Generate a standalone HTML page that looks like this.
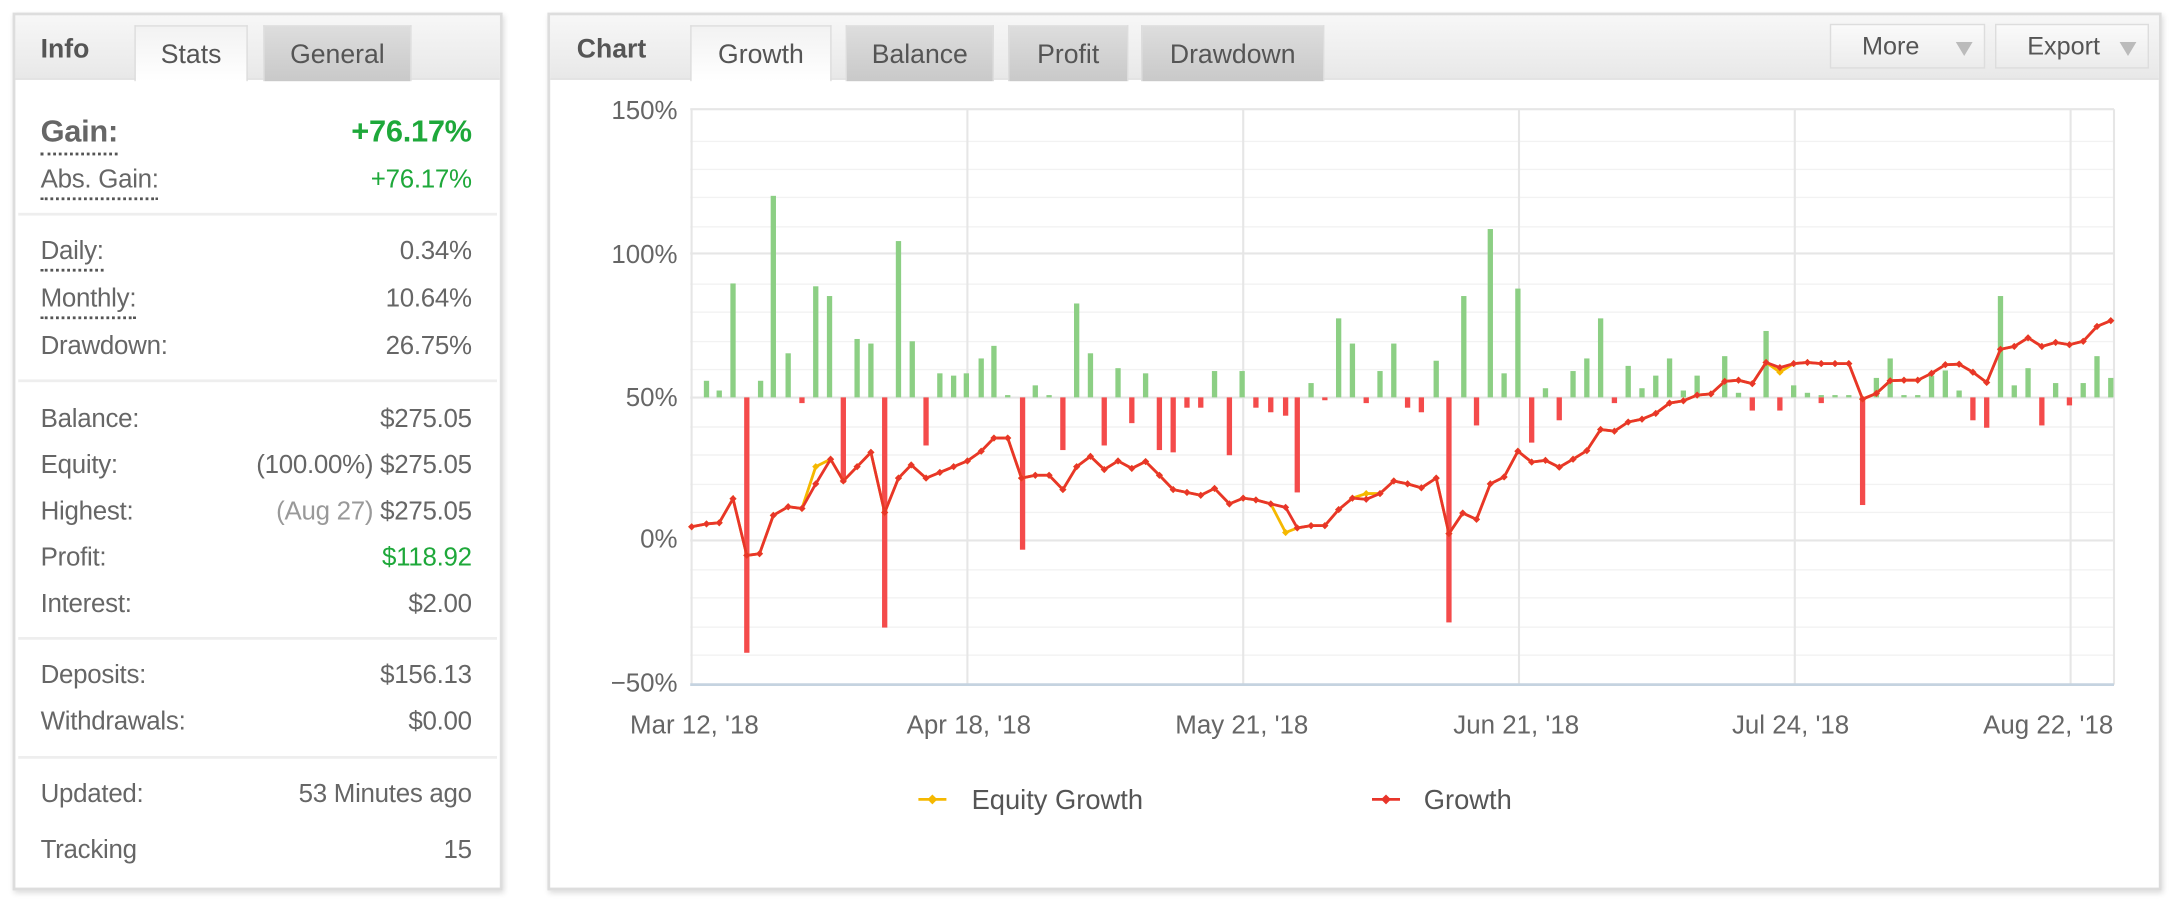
<!DOCTYPE html>
<html><head><meta charset="utf-8"><style>
*{margin:0;padding:0;box-sizing:border-box}
html,body{width:2184px;height:899px;overflow:hidden;background:#fff}
#w{position:absolute;left:0;top:0;width:1560px;height:642px;transform:scale(1.4);transform-origin:0 0;font-family:"Liberation Sans",sans-serif;color:#666}
.panel{position:absolute;background:#fff;border:2px solid #ddd;box-shadow:1px 2px 4px rgba(0,0,0,.15)}
.hdr{position:absolute;left:0;right:0;top:0;height:46px;background:linear-gradient(#f7f7f7,#e8e8e8);border-bottom:1px solid #ddd}
.tab{position:absolute;top:7px;height:40px;font-size:19px;text-align:center;line-height:42px;color:#555;background:linear-gradient(#ddd,#c9c9c9);border:1px solid #ddd;border-bottom:none}
.tab.act{background:linear-gradient(#f2f2f2,#fff);color:#555}
.ttl{position:absolute;top:14px;font-weight:bold;font-size:19px;color:#555}
.row{position:absolute;left:18px;right:20px;font-size:18.5px;height:22px;letter-spacing:-0.2px}
.row .l{position:absolute;left:0}
.row .r{position:absolute;right:0}
.dot{border-bottom:2px dotted #555;padding-bottom:2px}
.sep{position:absolute;left:2px;right:2px;height:2px;background:#eee}
.g{color:#1ea83a}
.btn{position:absolute;top:6px;height:32px;border:1px solid #ddd;background:linear-gradient(#fafafa,#ececec);font-size:18px;line-height:30px;padding-left:22px;color:#555}
.btn i{position:absolute;right:8px;top:12px;border-left:6px solid transparent;border-right:6px solid transparent;border-top:10px solid #bbb}
.yl{position:absolute;font-size:18.5px;color:#666;text-align:right;width:62px}
.xl{position:absolute;font-size:18.5px;color:#666;width:130px;text-align:center}
</style></head><body><div id="w">
<div class="panel" style="left:9px;top:9px;width:350px;height:627px">
 <div class="hdr"></div>
 <div class="ttl" style="left:18px">Info</div>
 <div class="tab act" style="left:85px;width:81px">Stats</div>
 <div class="tab" style="left:177px;width:106px">General</div>
 <div class="row" style="top:70px;font-size:22px;font-weight:bold;height:26px"><span class="l dot" style="color:#666">Gain:</span><span class="r g">+76.17%</span></div>
 <div class="row" style="top:106px"><span class="l dot">Abs. Gain:</span><span class="r g">+76.17%</span></div>
 <div class="sep" style="top:141px"></div>
 <div class="row" style="top:157px"><span class="l dot">Daily:</span><span class="r">0.34%</span></div>
 <div class="row" style="top:191px"><span class="l dot">Monthly:</span><span class="r">10.64%</span></div>
 <div class="row" style="top:225px"><span class="l">Drawdown:</span><span class="r">26.75%</span></div>
 <div class="sep" style="top:260px"></div>
 <div class="row" style="top:277px"><span class="l">Balance:</span><span class="r">$275.05</span></div>
 <div class="row" style="top:310px"><span class="l">Equity:</span><span class="r">(100.00%) $275.05</span></div>
 <div class="row" style="top:343px"><span class="l">Highest:</span><span class="r"><span style="color:#999">(Aug 27)</span> $275.05</span></div>
 <div class="row" style="top:376px"><span class="l">Profit:</span><span class="r g">$118.92</span></div>
 <div class="row" style="top:409px"><span class="l">Interest:</span><span class="r">$2.00</span></div>
 <div class="sep" style="top:444px"></div>
 <div class="row" style="top:460px"><span class="l">Deposits:</span><span class="r">$156.13</span></div>
 <div class="row" style="top:493px"><span class="l">Withdrawals:</span><span class="r">$0.00</span></div>
 <div class="sep" style="top:529px"></div>
 <div class="row" style="top:545px"><span class="l">Updated:</span><span class="r">53 Minutes ago</span></div>
 <div class="row" style="top:585px"><span class="l">Tracking</span><span class="r">15</span></div>
</div>
<div class="panel" style="left:391px;top:9px;width:1153px;height:627px">
 <div class="hdr"></div>
 <div class="ttl" style="left:19px">Chart</div>
 <div class="tab act" style="left:100px;width:101px">Growth</div>
 <div class="tab" style="left:211px;width:106px">Balance</div>
 <div class="tab" style="left:327px;width:86px">Profit</div>
 <div class="tab" style="left:422px;width:131px">Drawdown</div>
 <div class="btn" style="left:914px;width:111px">More<i></i></div>
 <div class="btn" style="left:1032px;width:110px">Export<i></i></div>
</div>
<div class="yl" style="left:422px;top:68px">150%</div>
<div class="yl" style="left:422px;top:171px">100%</div>
<div class="yl" style="left:422px;top:273px">50%</div>
<div class="yl" style="left:422px;top:374px">0%</div>
<div class="yl" style="left:422px;top:477px">−50%</div>
<div class="xl" style="left:431px;top:507px">Mar 12, '18</div>
<div class="xl" style="left:627px;top:507px">Apr 18, '18</div>
<div class="xl" style="left:822px;top:507px">May 21, '18</div>
<div class="xl" style="left:1018px;top:507px">Jun 21, '18</div>
<div class="xl" style="left:1214px;top:507px">Jul 24, '18</div>
<div class="xl" style="left:1398px;top:507px">Aug 22, '18</div>
<svg style="position:absolute;left:0;top:0" width="1560" height="642">
<g stroke="#f2f2f2" stroke-width="1">
<line x1="493" x2="1510" y1="121" y2="121"/><line x1="493" x2="1510" y1="141" y2="141"/><line x1="493" x2="1510" y1="162" y2="162"/><line x1="493" x2="1510" y1="101" y2="101"/>
<line x1="493" x2="1510" y1="203" y2="203"/><line x1="493" x2="1510" y1="223" y2="223"/><line x1="493" x2="1510" y1="244" y2="244"/><line x1="493" x2="1510" y1="264" y2="264"/>
<line x1="493" x2="1510" y1="305" y2="305"/><line x1="493" x2="1510" y1="325" y2="325"/><line x1="493" x2="1510" y1="346" y2="346"/><line x1="493" x2="1510" y1="366" y2="366"/>
<line x1="493" x2="1510" y1="407" y2="407"/><line x1="493" x2="1510" y1="427" y2="427"/><line x1="493" x2="1510" y1="448" y2="448"/><line x1="493" x2="1510" y1="468" y2="468"/>
</g>
<g stroke="#e6e6e6" stroke-width="1.5">
<line x1="493" x2="1510" y1="78" y2="78"/><line x1="493" x2="1510" y1="181" y2="181"/><line x1="493" x2="1510" y1="284" y2="284"/><line x1="493" x2="1510" y1="386" y2="386"/>
<line x1="494" x2="494" y1="78" y2="489"/><line x1="691" x2="691" y1="78" y2="489"/><line x1="888" x2="888" y1="78" y2="489"/><line x1="1085" x2="1085" y1="78" y2="489"/><line x1="1282" x2="1282" y1="78" y2="489"/><line x1="1479" x2="1479" y1="78" y2="489"/><line x1="1510" x2="1510" y1="78" y2="489"/>
</g>
<line x1="493" x2="1510" y1="489" y2="489" stroke="#c5d3e0" stroke-width="2"/>
<g transform="translate(385.7,0) scale(0.7576,0.409)">
<g fill="#8ccf84" id="gb"></g><g fill="#f44b4b" id="rb"></g>
<polyline id="eq" fill="none" stroke="#f5b800" stroke-width="2" vector-effect="non-scaling-stroke"/>
<polyline id="gr" fill="none" stroke="#e8352a" stroke-width="2" vector-effect="non-scaling-stroke"/>
</g>
<g id="mk"></g>
<line x1="656" x2="676" y1="571" y2="571" stroke="#f5b800" stroke-width="2"/><rect x="663.5" y="568.5" width="5" height="5" fill="#f5b800" transform="rotate(45 666 571)"/>
<text x="694" y="578" font-size="19.5" fill="#555" font-family="Liberation Sans,sans-serif">Equity Growth</text>
<line x1="980" x2="1000" y1="571" y2="571" stroke="#e8352a" stroke-width="2"/><rect x="987.5" y="568.5" width="5" height="5" fill="#e8352a" transform="rotate(45 990 571)"/>
<text x="1017" y="578" font-size="19.5" fill="#555" font-family="Liberation Sans,sans-serif">Growth</text>
</svg>
</div>
<script>
var G=[[143,920],[157,915],[169,913],[182,871],[195,970],[207,967],[220,900],[234,885],[247,888],[260,845],[274,802],[286,840],[299,815],[312,790],[325,895],[338,835],[350,812],[364,835],[377,825],[390,815],[403,805],[416,788],[428,765],[441,765],[454,835],[467,830],[480,830],[493,855],[506,815],[519,797],[532,820],[545,805],[558,818],[571,806],[584,830],[597,855],[610,860],[623,865],[636,853],[650,880],[663,870],[675,873],[689,880],[703,886],[714,922],[727,918],[740,918],[753,890],[766,870],[779,872],[792,862],[805,840],[818,845],[831,852],[845,835],[857,932],[870,896],[883,907],[896,845],[909,833],[922,788],[935,807],[948,804],[961,816],[974,802],[987,787],[1000,750],[1013,753],[1026,737],[1039,732],[1052,722],[1065,704],[1078,700],[1091,690],[1104,688],[1117,666],[1130,664],[1143,670],[1156,633],[1169,642],[1182,635],[1195,633],[1208,635],[1221,635],[1234,635],[1247,697],[1260,687],[1273,665],[1286,664],[1299,664],[1312,652],[1325,637],[1338,636],[1351,650],[1364,668],[1377,610],[1390,605],[1403,590],[1416,605],[1429,598],[1442,602],[1455,596],[1468,570],[1481,560]];
var E=G.map(function(p){var q=p.slice();if(q[0]==260)q[1]=815;if(q[0]==703)q[1]=930;if(q[0]==779)q[1]=862;if(q[0]==1169)q[1]=650;return q;});
function pts(a){return a.map(function(p){return p.join(',')}).join(' ')}
document.getElementById('gr').setAttribute('points',pts(G));
document.getElementById('eq').setAttribute('points',pts(E));
var GB=[[157,665],[169,682],[182,495],[208,665],[220,342],[234,617],[260,500],[273,517],[299,592],[312,600],[338,421],[351,596],[377,652],[390,656],[402,652],[416,626],[428,604],[441,690],[467,673],[480,690],[506,530],[519,617],[545,643],[571,652],[636,648],[662,648],[727,669],[753,556],[766,600],[792,648],[805,600],[845,630],[871,517],[896,400],[909,652],[922,504],[948,678],[974,648],[987,626],[1000,556],[1026,639],[1039,678],[1052,656],[1065,626],[1078,682],[1091,656],[1117,622],[1130,686],[1156,578],[1182,673],[1195,686],[1208,690],[1221,690],[1234,690],[1260,660],[1273,626],[1286,690],[1299,690],[1312,656],[1325,647],[1338,682],[1377,517],[1390,673],[1403,643],[1429,669],[1455,669],[1468,622],[1481,660]];
var RB=[[195,1140],[247,704],[286,843],[325,1096],[364,778],[455,960],[493,786],[532,778],[558,739],[584,786],[597,790],[610,712],[623,712],[650,795],[675,712],[689,720],[703,726],[714,860],[740,699],[779,704],[818,712],[831,720],[857,1087],[883,743],[935,773],[961,734],[1013,704],[1143,717],[1169,717],[1208,704],[1247,882],[1351,734],[1364,747],[1416,743],[1442,708]];
var s='';
GB.forEach(function(b){s+='<rect x="'+(b[0]-2.5)+'" y="'+b[1]+'" width="5" height="'+(694-b[1])+'"/>'});
document.getElementById('gb').innerHTML=s;s='';
RB.forEach(function(b){s+='<rect x="'+(b[0]-2.5)+'" y="694" width="5" height="'+(b[1]-694)+'"/>'});
document.getElementById('rb').innerHTML=s;s='';
function mk(a,c){a.forEach(function(p){var x=385.7+0.7576*p[0],y=0.409*p[1];s+='<rect x="'+(x-1.8)+'" y="'+(y-1.8)+'" width="3.6" height="3.6" fill="'+c+'" transform="rotate(45 '+x+' '+y+')"/>'});}
mk(E,'#f5b800');mk(G,'#e8352a');
document.getElementById('mk').innerHTML=s;
</script>
</body></html>
